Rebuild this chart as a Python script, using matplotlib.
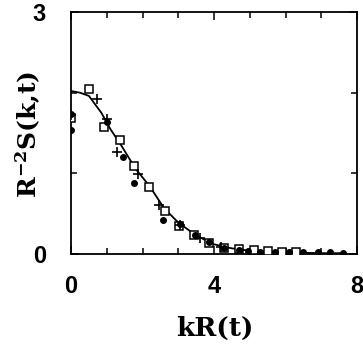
import matplotlib
matplotlib.use("Agg")
import matplotlib.pyplot as plt
from matplotlib.ticker import FixedLocator

# fitted curve
curve_x = [0.0, 0.25, 0.5, 0.85, 1.1, 1.4, 1.8, 2.2, 2.6, 3.0, 3.5, 4.0, 4.5, 5.0, 6.0, 7.0, 7.6]
curve_y = [2.02, 2.0, 1.96, 1.75, 1.55, 1.35, 1.06, 0.84, 0.57, 0.39, 0.23, 0.12, 0.07, 0.04, 0.02, 0.01, 0.01]

# open squares
sq_x = [0.0, 0.50, 0.92, 1.37, 1.76, 2.19, 2.62, 3.03, 3.45, 3.87, 4.29, 4.70, 5.12, 5.50, 5.90, 6.30]
sq_y = [1.69, 2.05, 1.57, 1.41, 1.09, 0.83, 0.53, 0.35, 0.23, 0.14, 0.08, 0.06, 0.05, 0.04, 0.03, 0.03]

# plus signs
pl_x = [0.0, 0.74, 1.01, 1.28, 1.88, 2.47, 3.05, 3.60, 4.20]
pl_y = [1.72, 1.92, 1.67, 1.26, 0.99, 0.61, 0.36, 0.20, 0.09]

# filled circles
fc_x = [0.0, 0.0, 1.0, 1.45, 1.76, 2.56, 3.05, 3.47, 3.85, 4.27, 4.70, 4.95, 5.30, 5.70, 6.10, 6.50, 6.90, 7.25, 7.60]
fc_y = [1.54, 1.74, 1.64, 1.20, 0.88, 0.42, 0.37, 0.24, 0.15, 0.08, 0.05, 0.04, 0.03, 0.02, 0.02, 0.02, 0.02, 0.02, 0.01]

x_major = [0, 4, 8]
x_minor = [1, 2, 3, 5, 6, 7]
y_major = [0, 3]
y_minor = [1, 2]

fig = plt.figure(figsize=(3.63, 3.51), dpi=100)
ax = fig.add_axes([71/363, 1-254/351, 286/363, 242/351])

ax.plot(curve_x, curve_y, color="black", lw=1.3, zorder=2)
ax.plot(sq_x, sq_y, ls="none", marker="s", ms=5.5, mfc="white", mec="black", mew=1.1, zorder=3)
ax.plot(pl_x, pl_y, ls="none", marker="+", ms=7, color="black", mew=1.2, zorder=4)
ax.plot(fc_x, fc_y, ls="none", marker="o", ms=4, color="black", zorder=4)

ax.set_xlim(0, 8)
ax.set_ylim(0, 3)
ax.xaxis.set_major_locator(FixedLocator(x_major))
ax.xaxis.set_minor_locator(FixedLocator(x_minor))
ax.yaxis.set_major_locator(FixedLocator(y_major))
ax.yaxis.set_minor_locator(FixedLocator(y_minor))
ax.set_xticklabels([str(v) for v in x_major])
ax.set_yticklabels([str(v) for v in y_major])

for s in ax.spines.values():
    s.set_linewidth(1.3)

ax.tick_params(which="both", direction="in", top=True, right=True, width=1.1)
ax.tick_params(which="major", length=6)
ax.tick_params(which="minor", length=4)
ax.tick_params(axis="x", which="major", pad=15)
ax.tick_params(axis="y", which="major", pad=18)
for lab in ax.get_xticklabels() + ax.get_yticklabels():
    lab.set_fontfamily("Liberation Sans")
    lab.set_fontweight("bold")
    lab.set_fontsize(17)

plt.rcParams["mathtext.fontset"] = "dejavuserif"
plt.rcParams["mathtext.default"] = "bf"
fig.text(28/363, 1-134/351, r"R$^{-2}$S(k,t)", rotation=90, ha="center", va="center",
         fontfamily="DejaVu Serif", fontweight="bold", fontsize=18)
fig.text(215/363, 1-328/351, "kR(t)", ha="center", va="center",
         fontfamily="DejaVu Serif", fontweight="bold", fontsize=19)

fig.savefig("out.png", dpi=100)
